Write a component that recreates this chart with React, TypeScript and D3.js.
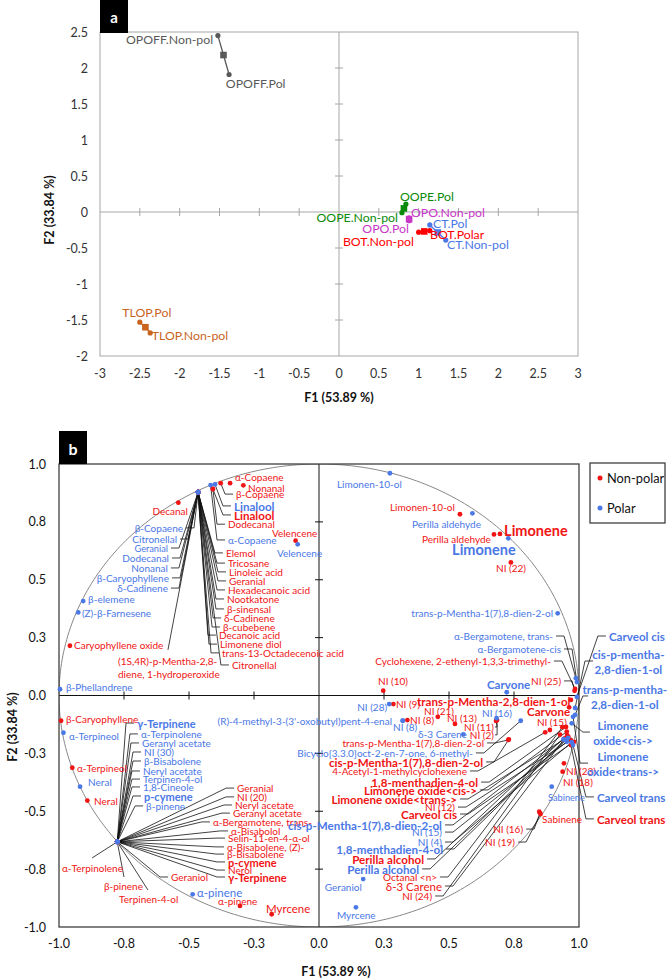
import React from "react";
import * as d3 from "d3";

const RED = "#f01414";
const BLUE = "#4a78e6";
const FONT = "Lato, 'Open Sans', 'DejaVu Sans', sans-serif";

// ---------- Panel a: observations ----------
const samples = ["OPOFF", "OOPE", "OPO", "BOT", "CT", "TLOP"];
const sampleColors = ["#595959", "#0a8a0a", "#c837c8", "#ff0000", "#4a78e6", "#c8641e"];
const nonPolF1 = [-1.52, 0.79, 0.88, 1.0, 1.34, -2.37];
const nonPolF2 = [2.45, -0.01, -0.08, -0.28, -0.39, -1.68];
const meanF1 = [-1.45, 0.815, 0.88, 1.07, 1.24, -2.43];
const meanF2 = [2.18, 0.05, -0.1, -0.27, -0.285, -1.6];
const polF1 = [-1.38, 0.84, 0.88, 1.14, 1.14, -2.5];
const polF2 = [1.91, 0.11, -0.12, -0.26, -0.18, -1.53];
// label text, sample index, label F1, label F2, anchor
const obsLabels: [string, number, number, number, string][] = [
  ["OPOFF.Non-pol", 0, -1.58, 2.39, "end"],
  ["OPOFF.Pol", 0, -1.42, 1.79, "start"],
  ["OOPE.Pol", 1, 0.765, 0.21, "start"],
  ["OOPE.Non-pol", 1, 0.74, -0.083, "end"],
  ["OPO.Non-pol", 2, 0.903, 0.0, "start"],
  ["OPO.Pol", 2, 0.878, -0.236, "end"],
  ["BOT.Polar", 3, 1.142, -0.306, "start"],
  ["BOT.Non-pol", 3, 0.941, -0.403, "end"],
  ["CT.Pol", 4, 1.18, -0.153, "start"],
  ["CT.Non-pol", 4, 1.355, -0.458, "start"],
  ["TLOP.Pol", 5, -2.72, -1.4, "start"],
  ["TLOP.Non-pol", 5, -2.35, -1.72, "start"],
];
const aXTicks = [-3, -2.5, -2, -1.5, -1, -0.5, 0, 0.5, 1, 1.5, 2, 2.5, 3];
const aYTicks = [-2, -1.5, -1, -0.5, 0, 0.5, 1, 1.5, 2, 2.5];

// ---------- Panel b: variables ----------
type Var = [string, number, number];
type Lab = [number, number, string, string, (string | number[][])?, string[]?];

const H1: [number, number] = [-0.465, 0.878];
const H2: [number, number] = [-0.776, -0.632];

const nonPolarVars: Var[] = [
  ["Elemol", ...H1], ["Tricosane", ...H1], ["Linoleic acid", ...H1], ["Geranial", ...H1],
  ["Hexadecanoic acid", ...H1], ["Nootkatone", ...H1], ["β-sinensal", ...H1], ["δ-Cadinene", ...H1],
  ["β-cubebene", ...H1], ["Decanoic acid", ...H1], ["Limonene diol", ...H1],
  ["trans-13-Octadecenoic acid", ...H1], ["Citronellal", ...H1],
  ["(1S,4R)-p-Mentha-2,8-diene, 1-hydroperoxide", ...H1],
  ["Decanal", -0.541, 0.833],
  ["α-Copaene", -0.342, 0.917],
  ["Nonanal", -0.291, 0.908],
  ["β-Copaene", -0.378, 0.917],
  ["Linalool", -0.408, 0.892],
  ["Dodecanal", -0.408, 0.892],
  ["Caryophyllene oxide", -0.958, 0.215],
  ["Velencene", -0.09, 0.669],
  ["Limonen-10-ol", 0.542, 0.783],
  ["Perilla aldehyde", 0.673, 0.696],
  ["Limonene", 0.696, 0.698],
  ["NI (22)", 0.738, 0.575],
  ["Cyclohexene, 2-ethenyl-1,3,3-trimethyl-", 0.985, 0.028],
  ["NI (25)", 0.983, 0.02],
  ["NI (10)", 0.247, 0.021],
  ["NI (9)", 0.286, -0.037],
  ["trans-p-Mentha-2,8-dien-1-ol", 0.969, -0.019],
  ["Carvone", 0.962, -0.051],
  ["NI (21)", 0.457, -0.092],
  ["NI (13)", 0.523, -0.123],
  ["NI (8)", 0.34, -0.106],
  ["NI (11)", 0.681, -0.11],
  ["NI (2)", 0.685, -0.106],
  ["NI (15)", 0.888, -0.149],
  ["trans-p-Mentha-1(7),8-dien-2-ol", 0.728, -0.192],
  ["cis-p-Mentha-1(7),8-dien-2-ol", 0.73, -0.19],
  ["4-Acetyl-1-methylcyclohexene", 0.87, -0.159],
  ["1,8-menthadien-4-ol", 0.95, -0.136],
  ["Limonene oxide<cis->", 0.953, -0.156],
  ["Limonene oxide<trans->", 0.959, -0.178],
  ["NI (12)", 0.968, -0.192],
  ["Carveol cis", 0.981, -0.2],
  ["Perilla alcohol", 0.954, -0.171],
  ["Octanal <n>", 0.936, -0.137],
  ["δ-3 Carene", 0.945, -0.185],
  ["NI (24)", 0.927, -0.169],
  ["Carveol trans", 0.969, -0.214],
  ["NI (23)", 0.937, -0.329],
  ["NI (18)", 0.942, -0.293],
  ["Sabinene", 0.847, -0.502],
  ["NI (16)", 0.85, -0.508],
  ["NI (19)", 0.852, -0.512],
  ["β-Caryophyllene", -0.992, -0.109],
  ["α-Terpineol", -0.949, -0.312],
  ["Neral", -0.891, -0.454],
  ["Geranial", ...H2], ["NI (20)", ...H2], ["Neryl acetate", ...H2], ["Geranyl acetate", ...H2],
  ["α-Bergamotene, trans-", ...H2], ["α-Bisabolol", ...H2], ["Selin-11-en-4-α-ol", ...H2],
  ["α-Bisabolene, (Z)-", ...H2], ["β-Bisabolene", ...H2], ["p-cymene", ...H2], ["Nerol", ...H2],
  ["γ-Terpinene", ...H2], ["Geraniol", ...H2], ["α-Terpinolene", ...H2], ["β-pinene", ...H2],
  ["Terpinen-4-ol", ...H2],
  ["α-pinene", -0.304, -0.909],
  ["Myrcene", -0.182, -0.945],
];

// label layout (F1, F2, anchor, style, leader, lines) — parallel to nonPolarVars
const nonPolarLabels: Lab[] = [
  [-0.358, 0.616, "s", "n", "d"], [-0.35, 0.572, "s", "n", "d"], [-0.346, 0.534, "s", "n", "d"],
  [-0.346, 0.495, "s", "n", "d"], [-0.35, 0.456, "s", "n", "d"], [-0.354, 0.417, "s", "n", "d"],
  [-0.354, 0.374, "s", "n", "d"], [-0.365, 0.335, "s", "n", "d"], [-0.369, 0.296, "s", "n", "d"],
  [-0.385, 0.261, "s", "n", "d"], [-0.381, 0.222, "s", "n", "d"], [-0.373, 0.184, "s", "n", "d"],
  [-0.335, 0.132, "s", "n", "d"],
  [-0.773, 0.149, "s", "n", [[-0.581, 0.197]], ["(1S,4R)-p-Mentha-2,8-", "diene, 1-hydroperoxide"]],
  [-0.504, 0.797, "e", "n"],
  [-0.323, 0.944, "s", "n"],
  [-0.273, 0.896, "s", "n"],
  [-0.319, 0.87, "s", "n", "d"],
  [-0.327, 0.78, "s", "b", "d"],
  [-0.35, 0.74, "s", "n", "d"],
  [-0.942, 0.218, "s", "n"],
  [-0.181, 0.702, "s", "n"],
  [0.273, 0.814, "s", "n"],
  [0.396, 0.676, "s", "n"],
  [0.712, 0.715, "s", "B"],
  [0.681, 0.551, "s", "n"],
  [0.892, 0.149, "e", "n", "d"],
  [0.931, 0.063, "e", "n", "d"],
  [0.227, 0.063, "s", "n"],
  [0.296, -0.037, "s", "n"],
  [0.377, -0.024, "s", "b"],
  [0.8, -0.067, "s", "b"],
  [0.404, -0.067, "s", "n"],
  [0.492, -0.097, "s", "n"],
  [0.35, -0.106, "s", "n"],
  [0.673, -0.136, "e", "n", [[0.685, -0.136], [0.677, -0.136]]],
  [0.673, -0.17, "e", "n", [[0.685, -0.17], [0.677, -0.17]]],
  [0.838, -0.114, "s", "n"],
  [0.635, -0.205, "e", "n", "d"],
  [0.631, -0.287, "e", "b", "d"],
  [0.569, -0.326, "e", "n", "d"],
  [0.612, -0.374, "e", "b", "d"],
  [0.608, -0.408, "e", "b", "d"],
  [0.531, -0.447, "e", "b", "d"],
  [0.523, -0.482, "e", "n", "d"],
  [0.531, -0.512, "e", "b", "d"],
  [0.404, -0.706, "e", "b", "d"],
  [0.454, -0.784, "e", "n", "d"],
  [0.473, -0.823, "e", "m", "d"],
  [0.435, -0.866, "e", "n", "d"],
  [1.069, -0.533, "s", "b", "d"],
  [0.95, -0.326, "s", "n"],
  [0.938, -0.374, "s", "n"],
  [0.858, -0.533, "s", "n"],
  [0.785, -0.577, "e", "n", "d"],
  [0.754, -0.633, "e", "n", "d"],
  [-0.973, -0.102, "s", "n"],
  [-0.931, -0.313, "s", "n"],
  [-0.865, -0.456, "s", "n"],
  [-0.315, -0.4, "s", "n", "d"], [-0.315, -0.438, "s", "n", "d"], [-0.323, -0.473, "s", "n", "d"],
  [-0.331, -0.508, "s", "n", "d"], [-0.408, -0.546, "s", "n", "d"], [-0.338, -0.585, "s", "n", "d"],
  [-0.35, -0.616, "s", "n", "d"], [-0.354, -0.654, "s", "n", "d"], [-0.354, -0.685, "s", "n", "d"],
  [-0.35, -0.719, "s", "b12", "d"], [-0.35, -0.754, "s", "n", "d"], [-0.35, -0.784, "s", "b12", "d"],
  [-0.569, -0.784, "s", "n", "d"],
  [-0.754, -0.745, "e", "n", [[-0.873, -0.702]]],
  [-0.827, -0.823, "s", "n", [[-0.75, -0.784]]],
  [-0.769, -0.879, "s", "n", [[-0.658, -0.84]]],
  [-0.388, -0.888, "s", "n"],
  [-0.204, -0.918, "s", "m"],
];

const polarVars: Var[] = [
  ["β-Copaene", ...H1], ["Citronellal", ...H1], ["Geranial", ...H1], ["Dodecanal", ...H1],
  ["Nonanal", ...H1], ["β-Caryophyllene", ...H1], ["δ-Cadinene", ...H1],
  ["Linalool", -0.4, 0.912],
  ["α-Copaene", -0.417, 0.909],
  ["β-elemene", -0.907, 0.408],
  ["(Z)-β-Farnesene", -0.926, 0.359],
  ["β-Phellandrene", -0.996, 0.027],
  ["Velencene", -0.082, 0.653],
  ["Limonen-10-ol", 0.273, 0.96],
  ["Perilla aldehyde", 0.59, 0.787],
  ["Limonene", 0.728, 0.679],
  ["trans-p-Mentha-1(7),8-dien-2-ol", 0.918, 0.355],
  ["α-Bergamotene, trans-", 0.988, 0.075],
  ["α-Bergamotene-cis", 0.992, 0.058],
  ["Carveol cis", 0.992, -0.006],
  ["cis-p-mentha-2,8-dien-1-ol", 0.985, -0.054],
  ["trans-p-mentha-2,8-dien-1-ol", 0.985, -0.084],
  ["Limonene oxide<cis->", 0.972, -0.12],
  ["Limonene oxide<trans->", 0.977, -0.092],
  ["Carvone", 0.722, 0.014],
  ["NI (28)", 0.27, -0.037],
  ["(R)-4-methyl-3-(3'-oxobutyl)pent-4-enal", 0.322, -0.109],
  ["NI (8)", 0.322, -0.109],
  ["NI (16)", 0.683, -0.098],
  ["δ-3 Carene", 0.555, -0.168],
  ["Bicyclo[3.3.0]oct-2-en-7-one, 6-methyl-", 0.776, -0.109],
  ["cis-p-Mentha-1(7),8-dien-2-ol", 0.94, -0.189],
  ["NI (15)", 0.953, -0.2],
  ["NI (4)", 0.972, -0.202],
  ["1,8-menthadien-4-ol", 0.958, -0.183],
  ["Perilla alcohol", 0.946, -0.192],
  ["Carveol trans", 0.977, -0.214],
  ["Sabinene", 0.895, -0.394],
  ["Geraniol", 0.17, -0.793],
  ["Myrcene", 0.142, -0.915],
  ["α-Terpineol", -0.983, -0.161],
  ["Neral", -0.919, -0.394],
  ["γ-Terpinene", ...H2], ["α-Terpinolene", ...H2], ["Geranyl acetate", ...H2], ["NI (30)", ...H2],
  ["β-Bisabolene", ...H2], ["Neryl acetate", ...H2], ["Terpinen-4-ol", ...H2], ["1,8-Cineole", ...H2],
  ["p-cymene", ...H2], ["β-pinene", ...H2],
  ["α-pinene", -0.486, -0.859],
];

const polarLabels: Lab[] = [
  [-0.523, 0.724, "e", "n", "d"], [-0.546, 0.676, "e", "n", "d"], [-0.581, 0.637, "e", "sm", "d"],
  [-0.577, 0.594, "e", "n", "d"], [-0.581, 0.551, "e", "n", "d"], [-0.577, 0.508, "e", "n", "d"],
  [-0.581, 0.464, "e", "n", "d"],
  [-0.327, 0.819, "s", "b", "d"],
  [-0.35, 0.672, "s", "n", "d"],
  [-0.888, 0.417, "s", "n"],
  [-0.912, 0.356, "s", "n"],
  [-0.973, 0.037, "s", "n"],
  [-0.162, 0.616, "s", "n"],
  [0.069, 0.914, "s", "n"],
  [0.358, 0.741, "s", "n"],
  [0.512, 0.633, "s", "B"],
  [0.9, 0.356, "e", "n"],
  [0.9, 0.257, "e", "n", "d"],
  [0.931, 0.201, "e", "n", "d"],
  [1.115, 0.257, "s", "b", "d"],
  [1.19, 0.179, "m", "b", [[1.023, 0.149], [1.054, 0.149]], ["cis-p-mentha-", "2,8-dien-1-ol"]],
  [1.176, 0.028, "m", "b", [[1.015, -0.002], [1.035, -0.002]], ["trans-p-mentha-", "2,8-dien-1-ol"]],
  [1.169, -0.127, "m", "b", [[1.015, -0.158], [1.042, -0.158]], ["Limonene", "oxide<cis->"]],
  [1.169, -0.261, "m", "b", [[1.004, -0.292], [1.035, -0.292]], ["Limonene", "oxide<trans->"]],
  [0.646, 0.05, "s", "b"],
  [0.262, -0.05, "e", "n"],
  [0.281, -0.11, "e", "n"],
  [0.285, -0.136, "s", "n"],
  [0.627, -0.076, "s", "n"],
  [0.381, -0.166, "s", "n"],
  [0.592, -0.248, "e", "n", "d"],
  [0.473, -0.559, "e", "b", "d"],
  [0.473, -0.59, "e", "n", "d"],
  [0.473, -0.633, "e", "n", "d"],
  [0.477, -0.663, "e", "b", "d"],
  [0.385, -0.749, "e", "b", "d"],
  [1.069, -0.438, "s", "b", "d"],
  [0.881, -0.438, "s", "sm"],
  [0.165, -0.827, "e", "n"],
  [0.069, -0.948, "s", "n"],
  [-0.962, -0.175, "s", "n"],
  [-0.888, -0.374, "s", "n"],
  [-0.7, -0.119, "s", "b12", "d"], [-0.685, -0.166, "s", "n", "d"], [-0.681, -0.205, "s", "n", "d"],
  [-0.673, -0.244, "s", "n", "d"], [-0.673, -0.283, "s", "n", "d"], [-0.677, -0.326, "s", "n", "d"],
  [-0.677, -0.361, "s", "n", "d"], [-0.677, -0.395, "s", "n", "d"], [-0.673, -0.434, "s", "b12", "d"],
  [-0.665, -0.477, "s", "n", "d"],
  [-0.469, -0.849, "s", "m"],
];

const bTicks = [-1, -0.75, -0.5, -0.25, 0, 0.25, 0.5, 0.75, 1];
const legendItems = ["Non-polar", "Polar"];

const STYLES: Record<string, { size: number; weight: number }> = {
  n: { size: 10, weight: 400 },
  sm: { size: 9.2, weight: 400 },
  m: { size: 11.5, weight: 400 },
  b: { size: 11.6, weight: 700 },
  b12: { size: 11, weight: 700 },
  B: { size: 14.5, weight: 700 },
};

export default function App() {
  // Panel a scales
  const xA = d3.scaleLinear().domain([-3, 3]).range([100, 578]);
  const yA = d3.scaleLinear().domain([-2, 2.5]).range([356, 32]);
  // Panel b scales
  const xB = d3.scaleLinear().domain([-1, 1]).range([59, 579]);
  const yB = d3.scaleLinear().domain([-1, 1]).range([927, 464]);

  const circle = d3
    .line<number>()
    .x((t) => xB(Math.cos(t)))
    .y((t) => yB(Math.sin(t)))(d3.range(0, 361).map((d) => (d * Math.PI) / 180));

  const leaderPath = (v: Var, l: Lab) => {
    const ld = l[4];
    if (!ld) return null;
    const p0: [number, number] = [xB(v[1]), yB(v[2])];
    let pts: [number, number][];
    if (ld === "d") {
      const dir = l[2] === "e" ? 1 : -1;
      const ex = xB(l[0]) + dir * 3;
      const hx = xB(l[0]) + dir * 11;
      const ey = yB(l[1]);
      pts = [p0, [hx, ey], [ex, ey]];
    } else {
      pts = [p0, ...(ld as number[][]).map((p) => [xB(p[0]), yB(p[1])] as [number, number])];
    }
    return d3.line()(pts);
  };

  const renderLabel = (v: Var, l: Lab, color: string, key: string) => {
    const st = STYLES[l[3]];
    const anchor = l[2] === "e" ? "end" : l[2] === "m" ? "middle" : "start";
    const lines = l[5] || [v[0]];
    const gap = st.size + 3;
    return (
      <text
        key={key}
        x={xB(l[0])}
        y={yB(l[1])}
        fill={color}
        fontSize={st.size}
        fontWeight={st.weight}
        textAnchor={anchor}
        dominantBaseline="central"
      >
        {lines.map((t, i) => (
          <tspan key={i} x={xB(l[0])} dy={i === 0 ? 0 : gap}>
            {t}
          </tspan>
        ))}
      </text>
    );
  };

  const tickFmt = (v: number) =>
    Math.round(v * 10) / 10 === v ? v.toFixed(1) : (v < 0 ? "-" : "") + (Math.abs(v) + 0.05).toFixed(1);

  return (
    <svg
      width={667}
      height={979}
      style={{ position: "absolute", left: 0, top: 0, background: "#fff" }}
      fontFamily={FONT}
    >
      <rect x={0} y={0} width={667} height={979} fill="#fff" />
      {/* ---------------- Panel a ---------------- */}
      <g>
        <rect x={xA(-3)} y={yA(2.5)} width={xA(3) - xA(-3)} height={yA(-2) - yA(2.5)} fill="none" stroke="#a6a6a6" strokeWidth={1} />
        <line x1={xA(-3)} x2={xA(3)} y1={yA(0)} y2={yA(0)} stroke="#a6a6a6" strokeWidth={1} />
        <line x1={xA(0)} x2={xA(0)} y1={yA(2.5)} y2={yA(-2)} stroke="#a6a6a6" strokeWidth={1} />
        {aXTicks.filter((t) => t !== 0 && Math.abs(t) < 3).map((t) => (
          <line key={"axt" + t} x1={xA(t)} x2={xA(t)} y1={yA(0) - 4} y2={yA(0) + 4} stroke="#a6a6a6" />
        ))}
        {aYTicks.filter((t) => t !== 0 && t < 2.5 && t > -2).map((t) => (
          <line key={"ayt" + t} x1={xA(0) - 4} x2={xA(0) + 4} y1={yA(t)} y2={yA(t)} stroke="#a6a6a6" />
        ))}
        {aXTicks.map((t) => (
          <text key={"axl" + t} x={xA(t)} y={373} textAnchor="middle" dominantBaseline="central" fontSize={12.5} fill="#333">
            {String(t)}
          </text>
        ))}
        {aYTicks.map((t) => (
          <text key={"ayl" + t} x={88} y={yA(t)} textAnchor="end" dominantBaseline="central" fontSize={12.5} fill="#333">
            {String(t)}
          </text>
        ))}
        <text x={339} y={397} textAnchor="middle" dominantBaseline="central" fontSize={12.5} fontWeight={700} fill="#111">
          F1 (53.89 %)
        </text>
        <text transform={`translate(49,210) rotate(-90)`} textAnchor="middle" dominantBaseline="central" fontSize={12.5} fontWeight={700} fill="#111">
          F2 (33.84 %)
        </text>
        {samples.map((s, i) => (
          <g key={s}>
            <path
              d={d3.line()([
                [xA(nonPolF1[i]), yA(nonPolF2[i])],
                [xA(meanF1[i]), yA(meanF2[i])],
                [xA(polF1[i]), yA(polF2[i])],
              ]) || ""}
              stroke={sampleColors[i]}
              strokeWidth={1.3}
              fill="none"
            />
            <circle cx={xA(nonPolF1[i])} cy={yA(nonPolF2[i])} r={2.6} fill={sampleColors[i]} />
            <circle cx={xA(polF1[i])} cy={yA(polF2[i])} r={2.6} fill={sampleColors[i]} />
            <rect x={xA(meanF1[i]) - 3.3} y={yA(meanF2[i]) - 3.3} width={6.6} height={6.6} fill={sampleColors[i]} />
          </g>
        ))}
        {obsLabels.map(([t, si, lx, ly, a]) => (
          <text key={t} x={xA(lx)} y={yA(ly)} textAnchor={a} dominantBaseline="central" fontSize={12.3} fill={sampleColors[si]}>
            {t}
          </text>
        ))}
        <rect x={100} y={0} width={28} height={33} fill="#000" />
        <text x={114} y={17} textAnchor="middle" dominantBaseline="central" fontSize={15} fontWeight={700} fill="#fff">
          a
        </text>
      </g>

      {/* ---------------- Panel b ---------------- */}
      <g>
        <defs>
          <clipPath id="bclip">
            <rect x={xB(-1)} y={yB(1)} width={xB(1) - xB(-1)} height={yB(-1) - yB(1)} />
          </clipPath>
        </defs>
        <path d={circle || ""} fill="none" stroke="#7a7a7a" strokeWidth={0.9} clipPath="url(#bclip)" />
        <line x1={xB(-1)} x2={xB(1)} y1={yB(0)} y2={yB(0)} stroke="#111" strokeWidth={1} />
        <line x1={xB(0)} x2={xB(0)} y1={yB(1)} y2={yB(-1)} stroke="#111" strokeWidth={1} />
        {bTicks.filter((t) => t !== 0 && Math.abs(t) < 1).map((t) => (
          <g key={"bt" + t}>
            <line x1={xB(t)} x2={xB(t)} y1={yB(0) - 4} y2={yB(0) + 4} stroke="#111" />
            <line x1={xB(0) - 4} x2={xB(0) + 4} y1={yB(t)} y2={yB(t)} stroke="#111" />
          </g>
        ))}
        <rect x={xB(-1)} y={yB(1)} width={xB(1) - xB(-1)} height={yB(-1) - yB(1)} fill="none" stroke="#404040" strokeWidth={1.3} />
        {bTicks.map((t) => (
          <text key={"bxl" + t} x={xB(t)} y={943} textAnchor="middle" dominantBaseline="central" fontSize={12.5} fill="#111">
            {tickFmt(t)}
          </text>
        ))}
        {bTicks.map((t) => (
          <text key={"byl" + t} x={46} y={yB(t)} textAnchor="end" dominantBaseline="central" fontSize={12.5} fill="#111">
            {tickFmt(t)}
          </text>
        ))}
        <text x={336} y={971} textAnchor="middle" dominantBaseline="central" fontSize={12.5} fontWeight={700} fill="#111">
          F1 (53.89 %)
        </text>
        <text transform={`translate(12,727) rotate(-90)`} textAnchor="middle" dominantBaseline="central" fontSize={12.5} fontWeight={700} fill="#111">
          F2 (33.84 %)
        </text>

        {/* leaders */}
        <g stroke="#111" strokeWidth={0.8} fill="none">
          {nonPolarVars.map((v, i) => {
            const d = leaderPath(v, nonPolarLabels[i]);
            return d ? <path key={"lnp" + i} d={d} /> : null;
          })}
          {polarVars.map((v, i) => {
            const d = leaderPath(v, polarLabels[i]);
            return d ? <path key={"lp" + i} d={d} /> : null;
          })}
        </g>

        {/* points */}
        {nonPolarVars.map((v, i) => (
          <circle key={"pnp" + i} cx={xB(v[1])} cy={yB(v[2])} r={2.4} fill={RED} />
        ))}
        {polarVars.map((v, i) => (
          <circle key={"pp" + i} cx={xB(v[1])} cy={yB(v[2])} r={2.4} fill={BLUE} />
        ))}

        {/* labels */}
        {nonPolarVars.map((v, i) => renderLabel(v, nonPolarLabels[i], RED, "tnp" + i))}
        {polarVars.map((v, i) => renderLabel(v, polarLabels[i], BLUE, "tp" + i))}

        {/* legend */}
        <rect x={590} y={463} width={75} height={60} fill="#fff" stroke="#404040" strokeWidth={1.3} />
        {legendItems.map((t, i) => (
          <g key={t}>
            <circle cx={600} cy={478 + i * 30} r={2.5} fill={i === 0 ? RED : BLUE} />
            <text x={607} y={478 + i * 30} dominantBaseline="central" fontSize={12.8} fill="#111">
              {t}
            </text>
          </g>
        ))}

        <rect x={59} y={431} width={28} height={33} fill="#000" />
        <text x={73} y={448} textAnchor="middle" dominantBaseline="central" fontSize={16} fontWeight={700} fill="#fff">
          b
        </text>
      </g>
    </svg>
  );
}
